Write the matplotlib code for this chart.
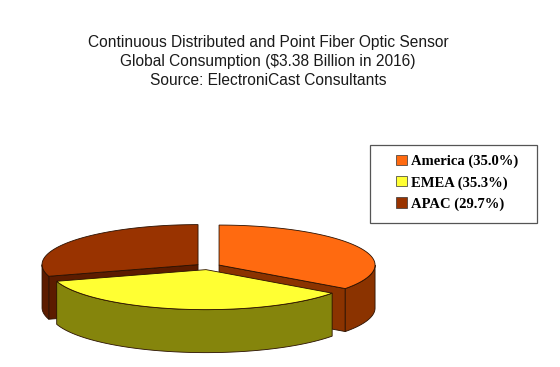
import matplotlib.pyplot as plt
import numpy as np
from matplotlib.patches import Patch, Rectangle

# data
regions = ['America', 'EMEA', 'APAC']
shares = [35.0, 35.3, 29.7]
top_colors = ['#FF6A10', '#FFFF33', '#993300']
side_colors = ['#8B3300', '#85850C', '#5C1C00']
legend_colors = ['#FF6A10', '#FFFF33', '#993300']

title = ('Continuous Distributed and Point Fiber Optic Sensor\n'
         'Global Consumption ($3.38 Billion in 2016)\n'
         'Source: ElectroniCast Consultants')

# pie geometry (pixel space, y down)
cx, cy = 208, 266.5
rx, ry = 156, 40
depth = 43
explode = 12.4


def pt(theta, x0, y0, r=1.0):
    t = np.radians(theta)
    return x0 + r * rx * np.sin(t), y0 - r * ry * np.cos(t)


fig = plt.figure(figsize=(5.6, 3.67), dpi=100)
ax = fig.add_axes([0, 0, 1, 1])
ax.set_xlim(0, 560)
ax.set_ylim(367, 0)
ax.axis('off')

ec = '#2a1000'
lw = 0.6

bounds = np.concatenate([[0], np.cumsum(shares)]) / sum(shares) * 360
slices = []
for i in range(len(shares)):
    a, b = bounds[i], bounds[i + 1]
    mid = np.radians((a + b) / 2)
    x0 = cx + explode * np.sin(mid)
    y0 = cy - explode * np.cos(mid) * ry / rx
    slices.append((a, b, x0, y0))

# back slices first, front (EMEA) last
order = sorted(range(len(shares)), key=lambda i: slices[i][3])
for i in order:
    a, b, x0, y0 = slices[i]
    # radial cut faces
    for ang, sgn in ((a, -1), (b, 1)):
        # visible if the face normal points toward the viewer (down)
        normal = ang + 90 * sgn
        if np.cos(np.radians(normal)) < 0:
            ex, ey = pt(ang, x0, y0)
            ax.fill([x0, ex, ex, x0], [y0, ey, ey + depth, y0 + depth],
                    color=side_colors[i], ec=ec, lw=lw, zorder=2)
    # outer curved side (front half only)
    lo, hi = max(a, 90), min(b, 270)
    if hi > lo:
        th = np.linspace(lo, hi, 80)
        xs, ys = pt(th, x0, y0)
        ax.fill(np.concatenate([xs, xs[::-1]]),
                np.concatenate([ys, ys[::-1] + depth]),
                color=side_colors[i], ec=ec, lw=lw, zorder=2)
    # top face
    th = np.linspace(a, b, 120)
    xs, ys = pt(th, x0, y0)
    ax.fill(np.concatenate([[x0], xs]), np.concatenate([[y0], ys]),
            color=top_colors[i], ec=ec, lw=lw, zorder=2)

ax.text(268, 61.5, title, ha='center', va='center', fontsize=11.2,
        family='Liberation Sans', linespacing=1.36, color='#1a1a1a')

# legend box
ax.add_patch(Rectangle((370, 145), 167, 78, fill=False, ec='#555555', lw=0.9))
handles = [Patch(facecolor=c, edgecolor='#333333', lw=0.5) for c in legend_colors]
labels = [f'{r} ({s:.1f}%)' for r, s in zip(regions, shares)]
leg = ax.legend(handles, labels, loc='upper left',
                bbox_to_anchor=(396 / 560, 1 - 155 / 367),
                bbox_transform=fig.transFigure,
                prop={'family': 'Liberation Serif', 'weight': 'bold', 'size': 10.5},
                frameon=False, handlelength=0.72, handleheight=0.72,
                handletextpad=0.3, labelspacing=0.52, borderpad=0,
                borderaxespad=0)

fig.savefig('out.png', dpi=100)
